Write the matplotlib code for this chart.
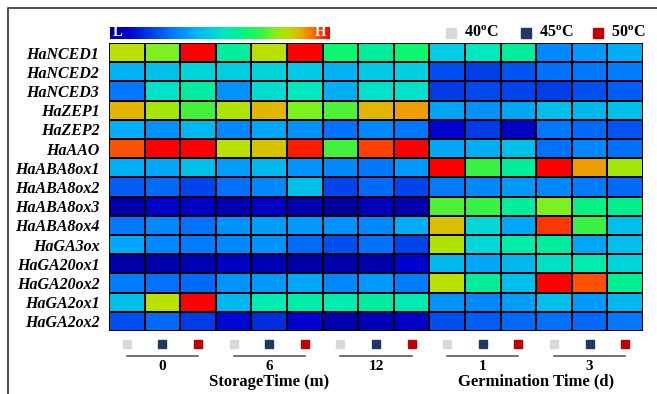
import numpy as np
import matplotlib.pyplot as plt
from matplotlib.colors import LinearSegmentedColormap
from matplotlib.lines import Line2D

plt.rcParams['font.family'] = ['Liberation Serif', 'DejaVu Serif']
plt.rcParams['mathtext.fontset'] = 'custom'
plt.rcParams['mathtext.rm'] = 'Liberation Serif:bold'

genes = ["HaNCED1", "HaNCED2", "HaNCED3", "HaZEP1", "HaZEP2", "HaAAO",
         "HaABA8ox1", "HaABA8ox2", "HaABA8ox3", "HaABA8ox4", "HaGA3ox",
         "HaGA20ox1", "HaGA20ox2", "HaGA2ox1", "HaGA2ox2"]
temps = ["40", "45", "50"]
temp_colors = ["#d9d9d9", "#1f3864", "#c00000"]
storage_times = ["0", "6", "12"]
germ_times = ["1", "3"]

# relative expression (0 = L, 1 = H), columns: time x temperature
storage = [
    [0.80, 0.74, 1.00, 0.57, 0.80, 1.00, 0.62, 0.57, 0.62],
    [0.39, 0.42, 0.47, 0.45, 0.47, 0.44, 0.39, 0.44, 0.46],
    [0.28, 0.50, 0.56, 0.33, 0.49, 0.52, 0.38, 0.50, 0.50],
    [0.86, 0.78, 0.70, 0.79, 0.86, 0.74, 0.71, 0.86, 0.88],
    [0.38, 0.33, 0.40, 0.31, 0.37, 0.33, 0.27, 0.31, 0.28],
    [0.94, 1.00, 1.00, 0.80, 0.84, 0.98, 0.70, 0.95, 1.00],
    [0.38, 0.37, 0.42, 0.35, 0.40, 0.33, 0.31, 0.28, 0.34],
    [0.24, 0.26, 0.20, 0.27, 0.31, 0.42, 0.20, 0.26, 0.20],
    [0.02, 0.07, 0.06, 0.03, 0.06, 0.03, 0.00, 0.05, 0.03],
    [0.28, 0.31, 0.27, 0.33, 0.35, 0.34, 0.33, 0.31, 0.38],
    [0.37, 0.31, 0.29, 0.31, 0.33, 0.26, 0.22, 0.27, 0.20],
    [0.02, 0.03, 0.04, 0.06, 0.04, 0.02, 0.03, 0.03, 0.08],
    [0.29, 0.27, 0.26, 0.33, 0.34, 0.37, 0.31, 0.34, 0.29],
    [0.42, 0.80, 1.00, 0.40, 0.54, 0.55, 0.54, 0.56, 0.54],
    [0.22, 0.26, 0.18, 0.09, 0.16, 0.08, 0.03, 0.05, 0.07],
]
germination = [
    [0.45, 0.52, 0.57, 0.31, 0.34, 0.38],
    [0.22, 0.19, 0.23, 0.27, 0.28, 0.29],
    [0.18, 0.21, 0.20, 0.19, 0.22, 0.24],
    [0.36, 0.33, 0.37, 0.42, 0.40, 0.42],
    [0.08, 0.18, 0.06, 0.28, 0.26, 0.23],
    [0.37, 0.38, 0.42, 0.27, 0.31, 0.27],
    [1.00, 0.69, 0.57, 1.00, 0.88, 0.78],
    [0.29, 0.31, 0.34, 0.31, 0.29, 0.26],
    [0.71, 0.69, 0.57, 0.74, 0.60, 0.58],
    [0.85, 0.48, 0.37, 0.96, 0.69, 0.42],
    [0.79, 0.48, 0.55, 0.56, 0.37, 0.42],
    [0.40, 0.37, 0.40, 0.50, 0.54, 0.47],
    [0.80, 0.57, 0.42, 1.00, 0.94, 0.58],
    [0.33, 0.31, 0.35, 0.42, 0.34, 0.40],
    [0.22, 0.24, 0.26, 0.27, 0.26, 0.28],
]

cmap = LinearSegmentedColormap.from_list("lh", [
    (0.00, "#00009a"), (0.08, "#0000d0"), (0.16, "#0030e0"), (0.22, "#0050f0"),
    (0.28, "#0078ff"), (0.34, "#0098ff"), (0.40, "#00b8f0"), (0.46, "#00d0e0"),
    (0.52, "#00e8c0"), (0.58, "#00f090"), (0.64, "#10fa60"), (0.70, "#40f040"),
    (0.74, "#7cf020"), (0.80, "#b8e000"), (0.86, "#e0b800"), (0.92, "#ff7000"),
    (1.00, "#ff0000")])

data = np.hstack([np.array(storage), np.array(germination)])
nrow, ncol = data.shape

fig = plt.figure(figsize=(6.57, 3.94), dpi=100)
ax = fig.add_axes([109/657, 1-331/394, 534/657, 288/394])
ax.pcolormesh(data, cmap=cmap, vmin=0, vmax=1, edgecolors="black", linewidth=1.1)
ax.set_xlim(0, ncol)
ax.set_ylim(nrow, 0)
ax.set_yticks(np.arange(nrow) + 0.5)
ax.set_yticklabels(genes, fontsize=11.5, fontweight="bold", fontstyle="italic")
ax.tick_params(length=0, pad=7)
ax.set_xticks([])
for s in ax.spines.values():
    s.set_visible(False)

# temperature squares and group lines under the heatmap
groups = storage_times + germ_times
for g, lab in enumerate(groups):
    for t in range(3):
        c = g * 3 + t
        ax.plot(c + 0.5, nrow + 0.68, marker="s", ms=5.8, color=temp_colors[t],
                clip_on=False)
    ax.plot([g * 3 + 0.5, g * 3 + 2.5], [nrow + 1.3, nrow + 1.3], color="#595959",
            lw=1.2, clip_on=False)
    ax.text(g * 3 + 1.5, nrow + 1.85, lab, ha="center", va="center",
            fontsize=11, fontweight="bold")
ax.text(4.5, nrow + 2.65, "StorageTime (m)", ha="center", va="center",
        fontsize=12, fontweight="bold")
ax.text(12, nrow + 2.65, "Germination Time (d)", ha="center", va="center",
        fontsize=12, fontweight="bold")

# L-H colour bar
cax = fig.add_axes([110/657, 1-39/394, 220/657, 12/394])
cax.imshow(np.linspace(0, 1, 256)[None, :], cmap=cmap, aspect="auto")
cax.set_axis_off()
cax.text(0.035, 0.5, "L", transform=cax.transAxes, color="white", ha="center",
         va="center", fontsize=10.5, fontweight="bold")
cax.text(0.955, 0.5, "H", transform=cax.transAxes, color="white", ha="center",
         va="center", fontsize=10.5, fontweight="bold")

# temperature legend
leg_sq = [451, 526, 598]
for x, t, col in zip(leg_sq, temps, temp_colors):
    fig.add_artist(Line2D([x/657], [1-33/394], marker="s", ms=6.5, color=col,
                          transform=fig.transFigure))
    fig.text((x + 13)/657, 1-33/394, t + r"$^{\mathrm{o}}$C", ha="left",
             va="center", fontsize=11.5, fontweight="bold")

# partial frame
fig.add_artist(Line2D([8/657, 8/657, 1], [0, 1-8/394, 1-8/394], color="#404040",
                      lw=1.3, transform=fig.transFigure))

plt.savefig("out.png", dpi=100)
